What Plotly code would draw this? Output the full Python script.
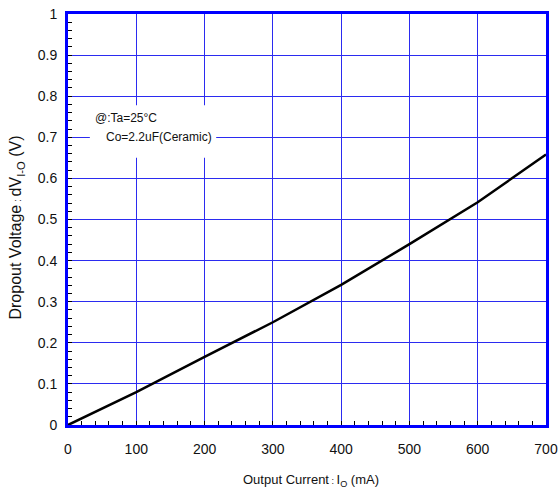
import plotly.graph_objects as go

current_mA = [0, 100, 200, 300, 400, 500, 600, 700]
dropout_V = [0, 0.080, 0.166, 0.250, 0.341, 0.440, 0.542, 0.658]

x_ticks = [0, 100, 200, 300, 400, 500, 600, 700]
y_ticks = [0, 0.1, 0.2, 0.3, 0.4, 0.5, 0.6, 0.7, 0.8, 0.9, 1]
y_tick_text = ["0", "0.1", "0.2", "0.3", "0.4", "0.5", "0.6", "0.7", "0.8", "0.9", "1"]

x_title = "Output Current<span style='font-size:9px'> : </span>I<sub>O</sub> (mA)"
y_title = "Dropout Voltage<span style='font-size:10px'> : </span>dV<sub>I-O</sub> (V)"

FONT = "Liberation Sans, Arial, sans-serif"
GRID = "#2b2bf0"
BORDER = "#0000ff"

fig = go.Figure()
fig.add_trace(go.Scatter(x=current_mA, y=dropout_V, mode="lines", hoverinfo="skip",
                         line=dict(color="black", width=2.5), showlegend=False))

fig.update_layout(
    template="none",
    width=560, height=504,
    margin=dict(l=68, r=14, t=14, b=79, autoexpand=False),
    paper_bgcolor="white", plot_bgcolor="white",
    font=dict(family=FONT, size=14, color="#111"),
    hovermode=False,
)

fig.update_xaxes(
    automargin=False,
    range=[0, 700], tickvals=x_ticks, ticktext=[str(v) for v in x_ticks],
    showgrid=True, gridcolor=GRID, gridwidth=1,
    showline=True, linecolor=BORDER, linewidth=3, mirror=True,
    ticks="inside", ticklen=4, tickcolor="black",
    minor=dict(dtick=20, ticks="inside", ticklen=4, tickcolor="black", showgrid=False),
    ticklabelstandoff=9, zeroline=False,
    tickfont=dict(size=14, family=FONT, color="#111"),
)
fig.update_yaxes(
    automargin=False,
    range=[0, 1], tickvals=y_ticks, ticktext=y_tick_text,
    showgrid=True, gridcolor=GRID, gridwidth=1,
    showline=True, linecolor=BORDER, linewidth=3, mirror=True,
    ticks="inside", ticklen=4, tickcolor="black",
    minor=dict(dtick=0.02, ticks="inside", ticklen=4, tickcolor="black", showgrid=False),
    ticklabelstandoff=5, zeroline=False,
    tickfont=dict(size=14, family=FONT, color="#111"),
)

# axis titles
fig.add_annotation(xref="paper", yref="paper", x=0.508, y=0, yshift=-55,
                   text=x_title, showarrow=False, xanchor="center", yanchor="middle",
                   font=dict(size=13, family=FONT, color="#111"))
fig.add_annotation(xref="paper", yref="paper", x=0, xshift=-51, y=0.4805,
                   text=y_title, textangle=-90, showarrow=False,
                   xanchor="center", yanchor="middle",
                   font=dict(size=16, family=FONT, color="#111"))

# white background behind condition text
fig.add_shape(type="rect", xref="x", yref="y", x0=32, x1=217, y0=0.65, y1=0.778,
              fillcolor="white", line=dict(width=0), layer="above")
fig.add_annotation(x=36, y=0.748, xref="x", yref="y", text="@:Ta=25°C",
                   showarrow=False, xanchor="left", yanchor="middle",
                   font=dict(size=12, family=FONT, color="#111"))
fig.add_annotation(x=52, y=0.700, xref="x", yref="y", text="Co=2.2uF(Ceramic)",
                   showarrow=False, xanchor="left", yanchor="middle",
                   font=dict(size=12, family=FONT, color="#111"))

fig.write_html("out.html", config=dict(displayModeBar=False, staticPlot=True),
               post_script="document.body.style.margin='0';document.body.style.overflow='hidden';")
